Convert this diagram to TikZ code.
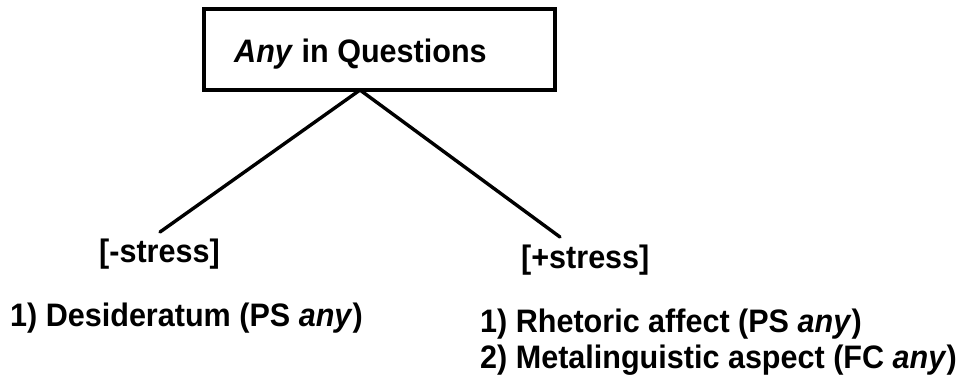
\documentclass[tikz,border=0pt]{standalone}
\usepackage{fontspec}
% a heavy sans face, narrowed to regular advance widths
\newfontfamily\heavysans{Liberation Sans Bold}[
  FakeStretch=0.94,
  ItalicFont=Liberation Sans Bold Italic]
\begin{document}
\begin{tikzpicture}[x=1pt,y=-1pt,
  lbl/.style={anchor=base west,inner sep=0pt,font=\fontsize{32.5}{39}\heavysans},
  branch/.style={line width=3.4pt,line cap=round},
  rootbox/.style={draw,line width=3.6pt,minimum width=351pt,minimum height=81pt,inner sep=0pt}]
\useasboundingbox (0,0) rectangle (959,384);
% root box and its title
\node[rootbox] (root) at (379.5,49.5) {};
\node[lbl] (title) at (234,62) {\itshape Any\/\upshape{} in Questions};
\coordinate (apex) at (360,90);
% the two feature branches
\node[lbl] (neg) at (99,262) {[-stress]};
\node[lbl] (pos) at (521,268) {[+stress]};
\coordinate (negtop) at (160,232);
\coordinate (postop) at (560,237);
\draw[branch] (apex) -- (negtop);
\draw[branch] (apex) -- (postop);
% readings under each branch
\node[lbl] (n1) at (10,326) {1) Desideratum (PS \itshape any\/\upshape)};
\node[lbl] (p1) at (480,332) {1) Rhetoric affect (PS \itshape any\/\upshape)};
\node[lbl] (p2) at (480,368) {2) Metalinguistic aspect (FC \itshape any\/\upshape)};
\end{tikzpicture}
\end{document}
